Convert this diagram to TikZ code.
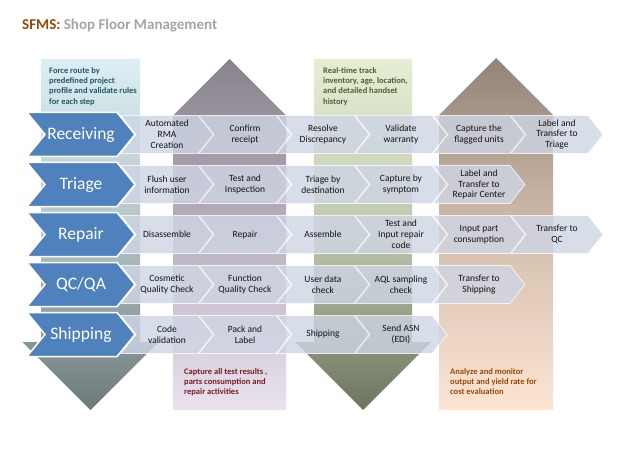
\documentclass[tikz,border=0pt]{standalone}
\usepackage{fontspec}
\setmainfont{Carlito}

% palette
\definecolor{mainblue}{RGB}{79,129,189}
\definecolor{subfill}{RGB}{206,213,228}
\definecolor{subink}{RGB}{20,20,20}
\definecolor{titlebrown}{RGB}{152,72,7}
\definecolor{titlegray}{RGB}{165,165,165}
% column gradients
\definecolor{cOneTop}{RGB}{219,239,244}
\definecolor{cOneMid}{RGB}{178,195,197}
\definecolor{cOneBot}{RGB}{108,122,122}
\definecolor{cTwoTop}{RGB}{135,131,140}
\definecolor{cTwoMid}{RGB}{186,177,191}
\definecolor{cTwoBot}{RGB}{234,226,238}
\definecolor{cThreeTop}{RGB}{230,238,214}
\definecolor{cThreeMid}{RGB}{190,198,172}
\definecolor{cThreeBot}{RGB}{108,116,94}
\definecolor{cFourTop}{RGB}{145,132,122}
\definecolor{cFourMid}{RGB}{212,190,172}
\definecolor{cFourBot}{RGB}{253,229,212}
% note inks
\definecolor{noteteal}{RGB}{33,89,104}
\definecolor{notegreen}{RGB}{79,98,40}
\definecolor{notered}{RGB}{122,28,38}
\definecolor{notebrown}{RGB}{152,72,7}

\tikzset{
  subshape/.style={fill=subfill, fill opacity=0.8, draw=white, draw opacity=0.75,
    line width=0.8pt, line join=miter},
  subtext/.style={font=\fontsize{9.5}{10.8}\selectfont, text=subink, align=center, inner sep=0pt},
  mainshape/.style={fill=mainblue, draw=white, line width=1.5pt, line join=miter},
  maintext/.style={font=\fontsize{17.5}{20}\selectfont, text=white, inner sep=0pt},
  notetext/.style={font=\fontsize{8.5}{10.3}\selectfont\bfseries, align=left,
    anchor=north west, inner sep=0pt},
}

% step chevron: left x, centre y, node name, label
\newcommand\stepchev[4]{%
  \path[subshape] (#1,#2-19) -- ++(77,0) -- ++(15,19) -- ++(-15,19) -- ++(-77,0)
    -- ++(15,-19) -- cycle;
  \node[subtext] (#3) at (#1+46,#2) {#4};
}
% stage chevron: centre y, node name, label
\newcommand\stagechev[3]{%
  \path[mainshape] (27,#1-22) -- (117,#1-22) -- (135,#1) -- (117,#1+22) -- (27,#1+22)
    -- (45,#1) -- cycle;
  \node[maintext] (#2) at (81,#1) {#3};
}

\begin{document}
\begin{tikzpicture}[x=1pt,y=-1pt]
\useasboundingbox (0,0) rectangle (624,468);
\fill[white] (0,0) rectangle (624,468);

% title
\node[anchor=base west, inner sep=0pt, font=\fontsize{15}{18}\selectfont\bfseries] (title)
  at (22,29.5) {\textcolor{titlebrown}{SFMS:} \textcolor{titlegray}{Shop Floor Management}};

% background columns: two downward and two upward arrows
\path[top color=cOneTop, bottom color=cOneBot, middle color=cOneMid]
  (41,59) -- (140,59) -- (140,342) -- (158.5,342) -- (90.5,410) -- (22.5,342) -- (41,342) -- cycle;
\path[top color=cTwoTop, bottom color=cTwoBot, middle color=cTwoMid]
  (173,410) -- (173,115.5) -- (229.5,59) -- (286,115.5) -- (286,410) -- cycle;
\path[top color=cThreeTop, bottom color=cThreeBot, middle color=cThreeMid]
  (314,59) -- (412,59) -- (412,342) -- (431,342) -- (363,410) -- (295,342) -- (314,342) -- cycle;
\path[top color=cFourTop, bottom color=cFourBot, middle color=cFourMid]
  (439,410) -- (439,115) -- (496,58) -- (553,115) -- (553,410) -- cycle;

% column notes
\node[notetext, text=noteteal] (noteroute) at (49,67)
  {Force route by\\predefined project\\profile and validate rules\\for each step};
\node[notetext, text=notegreen] (notetrack) at (323,67)
  {Real-time track\\inventory, age, location,\\and detailed handset\\history};
\node[notetext, text=notered] (notecapture) at (184,368)
  {Capture all test results ,\\parts consumption and\\repair activities};
\node[notetext, text=notebrown] (noteanalyze) at (450,368)
  {Analyze and monitor\\output and yield rate for\\cost evaluation};

% Receiving
\stepchev{121}{134.5}{rec1}{Automated\\RMA\\Creation}
\stepchev{199}{134.5}{rec2}{Confirm\\receipt}
\stepchev{277}{134.5}{rec3}{Resolve\\Discrepancy}
\stepchev{355}{134.5}{rec4}{Validate\\warranty}
\stepchev{433}{134.5}{rec5}{Capture the\\flagged units}
\stepchev{511}{134.5}{rec6}{Label and\\Transfer to\\Triage}
\stagechev{134.5}{receiving}{Receiving}

% Triage
\stepchev{121}{184.5}{tri1}{Flush user\\information}
\stepchev{199}{184.5}{tri2}{Test and\\Inspection}
\stepchev{277}{184.5}{tri3}{Triage by\\destination}
\stepchev{355}{184.5}{tri4}{Capture by\\symptom}
\stepchev{433}{184.5}{tri5}{Label and\\Transfer to\\Repair Center}
\stagechev{184.5}{triage}{Triage}

% Repair
\stepchev{121}{234.5}{rep1}{Disassemble}
\stepchev{199}{234.5}{rep2}{Repair}
\stepchev{277}{234.5}{rep3}{Assemble}
\stepchev{355}{234.5}{rep4}{Test and\\Input repair\\code}
\stepchev{433}{234.5}{rep5}{Input part\\consumption}
\stepchev{511}{234.5}{rep6}{Transfer to\\QC}
\stagechev{234.5}{repair}{Repair}

% QC/QA
\stepchev{121}{284.5}{qc1}{Cosmetic\\Quality Check}
\stepchev{199}{284.5}{qc2}{Function\\Quality Check}
\stepchev{277}{284.5}{qc3}{User data\\check}
\stepchev{355}{284.5}{qc4}{AQL sampling\\check}
\stepchev{433}{284.5}{qc5}{Transfer to\\Shipping}
\stagechev{284.5}{qcqa}{QC/QA}

% Shipping
\stepchev{121}{334.5}{shp1}{Code\\validation}
\stepchev{199}{334.5}{shp2}{Pack and\\Label}
\stepchev{277}{334.5}{shp3}{Shipping}
\stepchev{355}{334.5}{shp4}{Send ASN\\(EDI)}
\stagechev{334.5}{shipping}{Shipping}

\end{tikzpicture}
\end{document}
